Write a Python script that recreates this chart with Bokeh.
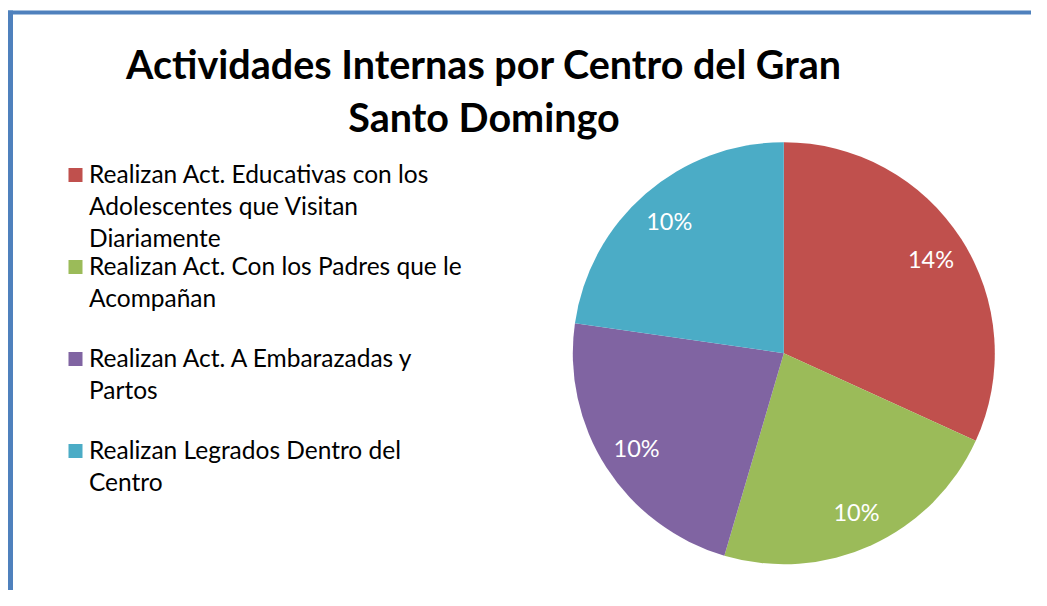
import numpy as np
from bokeh.plotting import figure
from bokeh.models import Range1d, ColumnDataSource
from bokeh.core.properties import value
from bokeh.embed import file_html
from bokeh.resources import INLINE

# ---- data ----
title_lines = ["Actividades Internas por Centro del Gran", "Santo Domingo"]
categories = [
    "Realizan Act. Educativas con los Adolescentes que Visitan Diariamente",
    "Realizan Act. Con los Padres que le Acompañan",
    "Realizan Act. A Embarazadas y Partos",
    "Realizan Legrados Dentro del Centro",
]
legend_lines = [
    ["Realizan Act. Educativas con los", "Adolescentes que Visitan", "Diariamente"],
    ["Realizan Act. Con los Padres que le", "Acompañan"],
    ["Realizan Act. A Embarazadas y", "Partos"],
    ["Realizan Legrados Dentro del", "Centro"],
]
values = [14, 10, 10, 10]
pct_labels = ["14%", "10%", "10%", "10%"]
colors = ["#C0504D", "#9BBB59", "#8064A2", "#4BACC6"]

# ---- layout (pixel space) ----
W, H = 1031, 590
FONT = "Lato"

def Y(py):  # reference pixel y -> data y
    return H - py

def X(px):
    return px

p = figure(width=W, height=H, output_backend="svg", toolbar_location=None,
           x_range=Range1d(0, W), y_range=Range1d(0, H), min_border=0)
p.axis.visible = False
p.grid.visible = False
p.outline_line_color = None
p.background_fill_color = "white"
p.border_fill_color = "white"

# frame border (top and left)
p.quad(left=[X(7.5)], right=[W], bottom=[Y(14)], top=[Y(10)],
       fill_color="#4F81BD", line_color=None)
p.quad(left=[X(7.5)], right=[X(12.5)], bottom=[0], top=[Y(10)],
       fill_color="#4F81BD", line_color=None)

# pie
vals = np.array(values, dtype=float)
frac = vals / vals.sum()
cum = np.concatenate([[0], np.cumsum(frac)])
start = np.pi / 2 - cum[:-1] * 2 * np.pi
end = np.pi / 2 - cum[1:] * 2 * np.pi
mid = (start + end) / 2
cx, cy, R = X(783.3), Y(352.7), 211
src = ColumnDataSource(dict(start=start, end=end, color=colors, cat=categories,
                            lx=cx + 175 * np.cos(mid), ly=cy + 175 * np.sin(mid),
                            lab=pct_labels))
p.wedge(x=cx, y=cy, radius=R, start_angle="start", end_angle="end",
        direction="clock", fill_color="color", line_color=None, source=src)
p.text(x="lx", y="ly", text="lab", source=src, text_color="white",
       text_font=value(FONT), text_font_size="23.5px",
       text_align="center", text_baseline="middle")

# title
p.text(x=[X(483.5)] * 2, y=[Y(63), Y(116)], text=title_lines,
       text_font=value(FONT), text_font_size="39.5px", text_font_style="bold",
       text_color="black", text_align="center", text_baseline="middle")

# legend
entry_top = [172.5, 264.5, 356.5, 448.5]
line_gap = 32.3
sq_x, sq_y, tx, ty, tt = [], [], [], [], []
for i, lines in enumerate(legend_lines):
    sq_x.append(X(75))
    sq_y.append(Y(entry_top[i] + 2))
    for j, ln in enumerate(lines):
        tx.append(X(88.5))
        ty.append(Y(entry_top[i] + j * line_gap))
        tt.append(ln)
p.rect(x=sq_x, y=sq_y, width=14, height=14, fill_color=colors, line_color=None)
p.text(x=tx, y=ty, text=tt, text_font=value(FONT), text_font_size="24.5px",
       text_color="black", text_align="left", text_baseline="middle")

open("out.html", "w").write(file_html(p, INLINE))
